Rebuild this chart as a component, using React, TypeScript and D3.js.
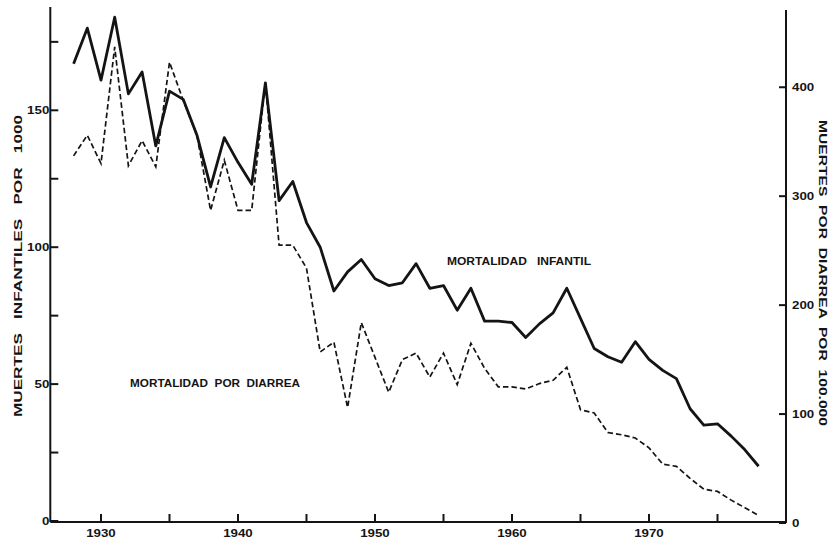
import React, { useRef, useEffect } from "react";
import * as d3 from "d3";

// years 1928..1978
const years: number[] = d3.range(1928, 1979);

// muertes infantiles por 1000 (eje izquierdo)
const infantil: number[] = [
  167, 180, 161, 184, 156, 164, 137, 157, 154, 141,
  122, 140, 131, 123, 160, 117, 124, 109, 100, 84,
  91, 95.5, 88.5, 86, 87, 94, 85, 86, 77, 85,
  73, 73, 72.5, 67, 72, 76, 85, 74, 63, 60,
  58, 65.5, 59, 55, 52, 41, 35, 35.5, 31, 26,
  20,
];

// muertes por diarrea por 100.000 (eje derecho)
const diarrea: number[] = [
  337, 356, 330, 437, 328, 351, 327, 423, 388, 356,
  287, 333, 287, 287, 405, 255, 255, 234, 157, 166,
  106, 184, 152, 120, 150, 156, 134, 156, 127, 165,
  142, 125, 125, 123, 128, 131, 143, 104, 101, 83,
  81, 78, 69, 54, 52, 41, 31, 29, 21, 14,
  7,
];

const xTicks = [1930, 1935, 1940, 1945, 1950, 1955, 1960, 1965, 1970, 1975];
const xLabels = [1930, 1940, 1950, 1960, 1970];
const leftTicks = [0, 25, 50, 75, 100, 125, 150, 175];
const leftLabels = [0, 50, 100, 150];
const rightTicks = [0, 100, 200, 300, 400];

const FONT = "'Liberation Sans', Arial, sans-serif";
const INK = "#141414";

const Chart = () => {
  const ref = useRef<SVGSVGElement>(null);

  useEffect(() => {
    const svg = d3.select(ref.current);
    svg.selectAll("*").remove();

    const x = d3.scaleLinear().domain([1926.3, 1980]).range([50.3, 786]);
    const yL = d3.scaleLinear().domain([0, 187]).range([521, 9]);
    const yR = d3.scaleLinear().domain([0, 470]).range([523, 11]);

    const x0 = x.range()[0];
    const x1 = x.range()[1];

    svg.append("rect").attr("width", 832).attr("height", 542).attr("fill", "#fff");

    const g = svg.append("g").attr("stroke", INK).attr("fill", "none");

    // axes lines
    g.append("line").attr("x1", x0).attr("x2", x0).attr("y1", 7).attr("y2", 522).attr("stroke-width", 2);
    g.append("line").attr("x1", x1).attr("x2", x1).attr("y1", 10).attr("y2", 523).attr("stroke-width", 2);
    g.append("line").attr("x1", x0).attr("x2", x1).attr("y1", 522).attr("y2", 522).attr("stroke-width", 2);

    // x ticks
    g.selectAll(".xt")
      .data(xTicks)
      .enter()
      .append("line")
      .attr("x1", (d) => x(d))
      .attr("x2", (d) => x(d))
      .attr("y1", 522)
      .attr("y2", 514)
      .attr("stroke-width", 2);

    g.selectAll(".lt")
      .data(leftTicks)
      .enter()
      .append("line")
      .attr("x1", x0)
      .attr("x2", x0 + 8)
      .attr("y1", (d) => yL(d))
      .attr("y2", (d) => yL(d))
      .attr("stroke-width", 2);

    g.selectAll(".rt")
      .data(rightTicks)
      .enter()
      .append("line")
      .attr("x1", x1)
      .attr("x2", x1 - 7)
      .attr("y1", (d) => yR(d))
      .attr("y2", (d) => yR(d))
      .attr("stroke-width", 2);

    const txt = svg
      .append("g")
      .attr("fill", INK)
      .attr("font-family", FONT)
      .attr("font-weight", "bold");

    // digits in the original are wide, so stretch them a bit
    const numLen = (d: number) => String(d).length * 7.4;

    txt.selectAll(".xl")
      .data(xLabels)
      .enter()
      .append("text")
      .attr("x", (d) => x(d))
      .attr("y", 537)
      .attr("text-anchor", "middle")
      .attr("font-size", 11)
      .attr("textLength", numLen)
      .attr("lengthAdjust", "spacingAndGlyphs")
      .text((d) => d);

    txt.selectAll(".ll")
      .data(leftLabels)
      .enter()
      .append("text")
      .attr("x", (d) => x0 - 1 - numLen(d))
      .attr("y", (d) => yL(d) + 4)
      .attr("font-size", 11)
      .attr("textLength", numLen)
      .attr("lengthAdjust", "spacingAndGlyphs")
      .text((d) => d);

    txt.selectAll(".rl")
      .data(rightTicks)
      .enter()
      .append("text")
      .attr("x", x1 + 6)
      .attr("y", (d) => yR(d) + 4)
      .attr("font-size", 11)
      .attr("textLength", numLen)
      .attr("lengthAdjust", "spacingAndGlyphs")
      .text((d) => d);

    // series
    const pts = (vals: number[]) => years.map((yr, i) => [yr, vals[i]] as [number, number]);

    svg.append("path")
      .datum(pts(diarrea))
      .attr("fill", "none")
      .attr("stroke", INK)
      .attr("stroke-width", 1.7)
      .attr("stroke-dasharray", "5.5,3")
      .attr("d", d3.line<[number, number]>().x((d) => x(d[0])).y((d) => yR(d[1])));

    svg.append("path")
      .datum(pts(infantil))
      .attr("fill", "none")
      .attr("stroke", INK)
      .attr("stroke-width", 2.8)
      .attr("stroke-linejoin", "round")
      .attr("d", d3.line<[number, number]>().x((d) => x(d[0])).y((d) => yL(d[1])));

    // titles, with the wide word gaps of the original
    const title = (s: string) =>
      txt.append("text").attr("xml:space", "preserve").attr("lengthAdjust", "spacingAndGlyphs").text(s);

    title("MUERTES   INFANTILES   POR   1000")
      .attr("transform", "translate(22,266) rotate(-90)")
      .attr("text-anchor", "middle")
      .attr("font-size", 11.5)
      .attr("textLength", 302);

    title("MUERTES  POR  DIARREA  POR  100.000")
      .attr("transform", "translate(819,273) rotate(90)")
      .attr("text-anchor", "middle")
      .attr("font-size", 11.5)
      .attr("textLength", 306);

    title("MORTALIDAD   INFANTIL")
      .attr("x", 447)
      .attr("y", 265)
      .attr("font-size", 11)
      .attr("textLength", 144);

    title("MORTALIDAD  POR  DIARREA")
      .attr("x", 130)
      .attr("y", 387)
      .attr("font-size", 11)
      .attr("textLength", 170);
  }, []);

  return <svg ref={ref} width={832} height={542} style={{ position: "absolute", left: 0, top: 0 }}></svg>;
};

export default function App() {
  return <Chart />;
}
